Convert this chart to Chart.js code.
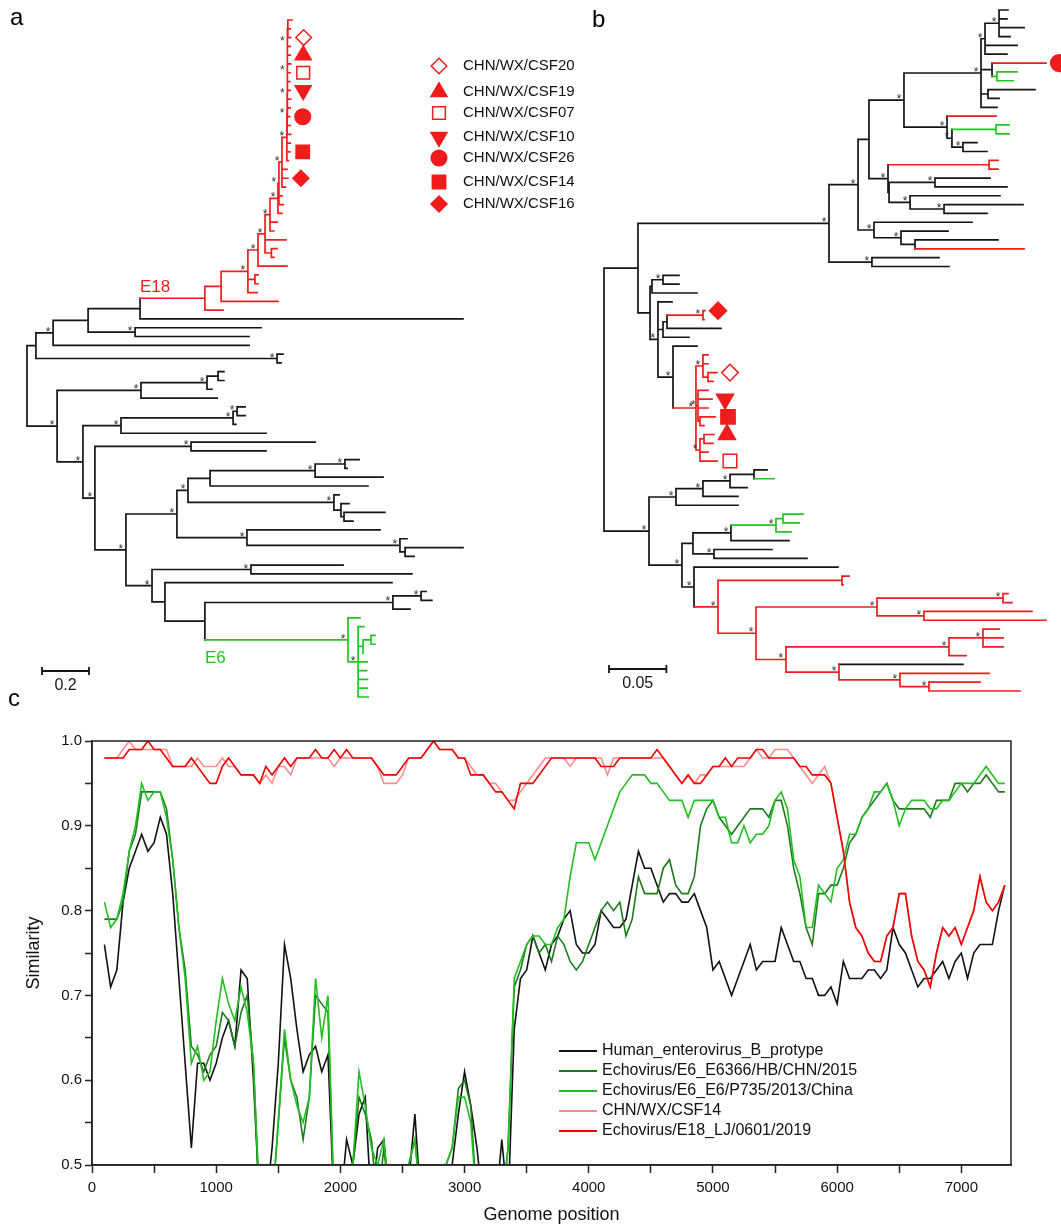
<!DOCTYPE html>
<html>
<head>
<meta charset="utf-8">
<script src="https://cdn.jsdelivr.net/npm/chart.js@4.4.1/dist/chart.umd.min.js"></script>
<style>
  html, body { margin: 0; padding: 0; background: #fff; }
  #page { position: relative; width: 1061px; height: 1227px; overflow: hidden; background: #fff; }
  canvas { position: absolute; }
</style>
</head>
<body>
<div id="page">
  <canvas id="simplot" width="1061" height="547" style="left:0;top:680px"></canvas>
  <canvas id="treeA" width="580" height="712" style="left:0;top:0"></canvas>
  <canvas id="treeB" width="481" height="712" style="left:580px;top:0"></canvas>
</div>
<script>
// ---------- panel c: similarity plot data ----------
// window midpoints along the genome (bp), one value every 50 bp
const positions = Array.from({ length: 146 }, (_, i) => 100 + 50 * i);

const humanEVB = [
  0.76,0.71,0.73,0.81,0.85,0.87,0.89,0.87,0.88,0.91,
  0.89,0.82,0.72,0.62,0.52,0.62,0.62,0.60,0.62,0.65,
  0.67,0.64,0.73,0.72,0.60,0.45,0.45,0.52,0.62,0.76,
  0.72,0.66,0.61,0.63,0.64,0.61,0.63,0.45,0.45,0.53,
  0.50,0.56,0.58,0.45,0.52,0.53,0.45,0.45,0.45,0.48,
  0.56,0.45,0.45,0.45,0.45,0.45,0.50,0.56,0.61,0.57,
  0.52,0.45,0.45,0.45,0.53,0.45,0.66,0.72,0.73,0.77,
  0.75,0.73,0.76,0.77,0.79,0.80,0.76,0.75,0.75,0.76,
  0.80,0.79,0.78,0.78,0.79,0.83,0.87,0.85,0.85,0.83,
  0.81,0.82,0.82,0.81,0.81,0.82,0.80,0.78,0.73,0.74,
  0.72,0.70,0.72,0.74,0.76,0.73,0.74,0.74,0.74,0.78,
  0.76,0.74,0.74,0.72,0.72,0.70,0.70,0.71,0.69,0.74,
  0.72,0.72,0.72,0.73,0.73,0.72,0.73,0.78,0.76,0.75,
  0.73,0.71,0.72,0.72,0.73,0.74,0.72,0.74,0.75,0.72,
  0.75,0.76,0.76,0.76,0.80,0.83
];
const e6E6366 = [
  0.79,0.79,0.79,0.81,0.87,0.89,0.94,0.94,0.94,0.94,
  0.92,0.86,0.78,0.73,0.64,0.63,0.61,0.63,0.64,0.68,
  0.67,0.64,0.68,0.70,0.62,0.45,0.45,0.45,0.55,0.65,
  0.60,0.58,0.53,0.58,0.70,0.69,0.68,0.45,0.45,0.45,
  0.50,0.58,0.56,0.53,0.45,0.52,0.45,0.45,0.45,0.50,
  0.53,0.45,0.45,0.45,0.45,0.50,0.52,0.59,0.60,0.57,
  0.45,0.45,0.45,0.45,0.45,0.52,0.71,0.73,0.76,0.77,
  0.75,0.76,0.74,0.77,0.76,0.74,0.73,0.74,0.76,0.78,
  0.80,0.81,0.80,0.81,0.77,0.79,0.84,0.82,0.82,0.82,
  0.85,0.86,0.83,0.82,0.82,0.84,0.90,0.92,0.93,0.91,
  0.90,0.89,0.90,0.91,0.92,0.92,0.92,0.91,0.93,0.93,
  0.90,0.85,0.82,0.78,0.76,0.82,0.82,0.83,0.83,0.85,
  0.88,0.89,0.91,0.92,0.93,0.94,0.95,0.93,0.92,0.92,
  0.92,0.92,0.92,0.91,0.93,0.93,0.93,0.95,0.95,0.94,
  0.95,0.95,0.96,0.95,0.94,0.94
];
const e6P735 = [
  0.81,0.78,0.79,0.82,0.87,0.90,0.95,0.93,0.94,0.94,
  0.91,0.86,0.78,0.72,0.62,0.64,0.60,0.61,0.67,0.72,
  0.69,0.67,0.71,0.68,0.62,0.45,0.45,0.45,0.55,0.66,
  0.60,0.57,0.55,0.58,0.72,0.65,0.70,0.45,0.45,0.45,
  0.50,0.61,0.57,0.52,0.50,0.53,0.45,0.45,0.45,0.50,
  0.53,0.45,0.45,0.45,0.45,0.50,0.52,0.58,0.58,0.55,
  0.45,0.45,0.45,0.45,0.45,0.52,0.72,0.74,0.76,0.77,
  0.77,0.76,0.76,0.78,0.79,0.84,0.88,0.88,0.88,0.86,
  0.88,0.90,0.92,0.94,0.95,0.96,0.96,0.96,0.95,0.95,
  0.94,0.93,0.93,0.93,0.91,0.93,0.93,0.93,0.93,0.91,
  0.91,0.88,0.88,0.90,0.88,0.89,0.89,0.90,0.93,0.94,
  0.92,0.86,0.84,0.78,0.78,0.83,0.82,0.81,0.85,0.86,
  0.89,0.89,0.91,0.92,0.94,0.94,0.95,0.93,0.90,0.92,
  0.93,0.93,0.93,0.92,0.92,0.93,0.93,0.94,0.95,0.95,
  0.95,0.96,0.97,0.96,0.95,0.95
];
const csf14 = [
  0.98,0.98,0.98,0.99,1.00,0.99,0.99,0.99,0.99,0.99,
  0.99,0.97,0.97,0.97,0.97,0.98,0.97,0.97,0.97,0.98,
  0.97,0.97,0.96,0.96,0.96,0.95,0.96,0.95,0.97,0.97,
  0.96,0.98,0.98,0.98,0.98,0.98,0.98,0.97,0.98,0.98,
  0.98,0.98,0.98,0.98,0.97,0.95,0.95,0.95,0.96,0.98,
  0.98,0.98,0.99,1.00,0.99,0.99,0.99,0.98,0.98,0.97,
  0.96,0.96,0.95,0.95,0.94,0.93,0.93,0.94,0.95,0.96,
  0.97,0.98,0.98,0.98,0.98,0.97,0.98,0.98,0.98,0.98,
  0.98,0.96,0.98,0.98,0.98,0.98,0.98,0.98,0.98,0.98,
  0.98,0.97,0.96,0.95,0.96,0.95,0.96,0.96,0.97,0.97,
  0.97,0.97,0.97,0.97,0.98,0.99,0.98,0.98,0.99,0.99,
  0.99,0.98,0.97,0.96,0.95,0.96,0.97,0.95,0.91,0.87,
  0.81,0.78,0.77,0.75,0.74,0.74,0.77,0.78,0.82,0.82,
  0.77,0.74,0.73,0.71,0.75,0.78,0.77,0.78,0.76,0.78,
  0.80,0.84,0.81,0.80,0.81,0.83
];
const e18LJ = [
  0.98,0.98,0.98,0.98,0.99,0.99,0.99,1.00,0.99,0.99,
  0.98,0.97,0.97,0.97,0.98,0.97,0.96,0.95,0.95,0.97,
  0.98,0.97,0.96,0.96,0.96,0.95,0.97,0.96,0.97,0.98,
  0.97,0.98,0.98,0.98,0.99,0.98,0.98,0.99,0.98,0.99,
  0.98,0.98,0.98,0.98,0.97,0.96,0.96,0.96,0.97,0.98,
  0.98,0.98,0.99,1.00,0.99,0.99,0.99,0.98,0.98,0.96,
  0.96,0.96,0.95,0.94,0.94,0.93,0.92,0.95,0.95,0.95,
  0.96,0.97,0.98,0.98,0.98,0.98,0.98,0.98,0.98,0.98,
  0.97,0.97,0.97,0.98,0.98,0.98,0.98,0.98,0.98,0.99,
  0.98,0.97,0.96,0.95,0.96,0.95,0.95,0.96,0.97,0.97,
  0.98,0.97,0.98,0.98,0.98,0.99,0.99,0.98,0.98,0.98,
  0.98,0.98,0.97,0.97,0.96,0.96,0.96,0.95,0.91,0.87,
  0.81,0.78,0.77,0.75,0.74,0.74,0.77,0.78,0.82,0.82,
  0.77,0.74,0.73,0.71,0.75,0.78,0.77,0.78,0.76,0.78,
  0.80,0.84,0.81,0.80,0.81,0.83
];
const seriesNames = [
  'Human_enterovirus_B_protype',
  'Echovirus/E6_E6366/HB/CHN/2015',
  'Echovirus/E6_E6/P735/2013/China',
  'CHN/WX/CSF14',
  'Echovirus/E18_LJ/0601/2019'
];
const seriesValues = [humanEVB, e6E6366, e6P735, csf14, e18LJ];
const xTickValues = Array.from({ length: 15 }, (_, i) => i * 500);

// ---------- panels a, b: isolates marked on the trees ----------
const isolates = ['CHN/WX/CSF20', 'CHN/WX/CSF19', 'CHN/WX/CSF07', 'CHN/WX/CSF10',
                  'CHN/WX/CSF26', 'CHN/WX/CSF14', 'CHN/WX/CSF16'];

// trees in Newick-like form: number after ':' = distance from root,
// '*' = supported node, '#r' / '#g' / '#k' = branch colour from there on
const A_T0 = '(:1.128,:1.120,CSF20:1.122):1.110';
const A_X0 = `(${A_T0},:1.120,CSF19:1.120)*:1.108`;
const A_X1 = `(${A_X0},:1.122,CSF07:1.120,:1.118,CSF10:1.120,:1.122)*:1.108`;
const A_X2 = `(${A_X1},:1.120,CSF26:1.118)*:1.108`;
const A_X3 = `(${A_X2},:1.120,:1.122)*:1.107`;
const A_S9 = `(${A_X3},:1.120,CSF14:1.118,:1.112)*:1.106`;
const A_S8 = `(${A_S9},:1.106,CSF16:1.110,:1.100)*:1.085`;
const A_S7 = `(${A_S8},:1.085,:1.090)*:1.072`;
const A_S6 = `(${A_S7},:1.085)*:1.068`;
const A_S5 = `(${A_S6},:1.064,:1.050)*:1.034`;
const A_S4 = `(${A_S5},:1.102,(:1.064,:1.050):1.040)*:1.013`;
const A_S3 = `(${A_S4},:1.106)*:0.983`;
const A_S2 = `(${A_S3},(:0.983,:0.983):0.970,:0.979)*:0.940`;
const A_E18 = `((${A_S2},:1.068):0.826,:0.834)E18#r:0.757`;
const A_A = `(${A_E18},:1.855):0.481`;
const A_B = `(${A_A},(:0.996,:0.945)*:0.460):0.260`;
const A_D = `(${A_B},:0.945)*:0.111`;
const A_top = `(${A_D},(:1.089,:1.081)*:1.064):0.038`;
const A_G = '(((:0.838,:0.838):0.813,:0.787)*:0.766,:0.809)*:0.485';
const A_I = '(((:0.928,:0.928)*:0.894,:0.889)*:0.877,:1.017)*:0.400';
const A_K = '(:1.226,:1.017)*:0.698';
const A_M1a = '(((:1.413,:1.362)*:1.353,:1.515)*:1.226,:1.451):0.779';
const A_M1b = '(:1.328,(:1.370,(:1.523,:1.387):1.349):1.336)*:1.306';
const A_M2 = '(:1.502,(:1.617,(:1.855,:1.647):1.609)*:1.587)*:0.936';
const A_M = `((${A_M1a},${A_M1b})*:0.685,${A_M2})*:0.638`;
const A_Q1 = '((:1.698,:1.723)*:1.677,:1.630)*:1.557';
const A_E6 = '(:1.417,(:1.434,((:1.481,:1.481):1.464,:1.432):1.430,:1.447,:1.445,:1.449,:1.447,:1.452)*:1.409)E6*#g:1.366';
const A_N = `((:1.345,:1.638)*:0.953,(:1.553,(${A_Q1},${A_E6}):0.757):0.587)*:0.532`;
const A_J = `(${A_K},(${A_M},${A_N})*:0.421)*:0.289`;
const A_F = `(${A_G},(${A_I},${A_J})*:0.238)*:0.128`;
const TREE_A = `(${A_top},${A_F})`;

const B_Z = '(((:0.3519,:0.3510,:0.3659,:0.3537)*:0.3441,:0.3598,:0.3510)*:0.3319,(CSF26#r:0.3850,(:0.3598,:0.3563)#g:0.3423):0.3380,(:0.3754,:0.3441):0.3345,:0.3423)*:0.3284';
const B_Z2 = '(#r:0.3415,((:0.3528,:0.3528)#g:0.3415,(:0.3249,:0.3336)*:0.3127)*:0.3031)*:0.2988';
const B_X1b = '((:0.3432,:0.3432)#r:0.3354,((:0.3362,:0.3510)*:0.2883,(:0.3449,(:0.3650,:0.3336)*:0.2962)*:0.2666):0.2483)*:0.2474';
const B_X = `(((${B_Z},${B_Z2})*:0.2613,${B_X1b}):0.2308,(:0.3206,(:0.2997,(:0.3432,#r:0.3659):0.2709)*:0.2587)*:0.2352)*:0.2213`;
const B_V = `(${B_X},(:0.2918,:0.3005)*:0.2334)*:0.1960`;
const B_RC = '((:0.0906,:0.0906,(CSF20:0.0984,:0.0949):0.0906)*:0.0862,(:0.0906,CSF10:0.0941,:0.0906,(CSF14:0.0967,:0.0871):0.0836)*:0.0819,((CSF19:0.0958,:0.0949):0.0871,:0.0906,CSF07:0.0984)*:0.0836)*#r:0.0801';
const B_W = `(((:0.0653,:0.0653)*:0.0514,:0.0810):0.0418,(:0.0592,(((CSF16:0.0880,:0.0871)*#r:0.0862,:0.1019):0.0549,:0.0740):0.0514,(:0.0810,${B_RC})*:0.0601)*:0.0470):0.0401`;
const B_U1 = '((((:0.1420,#g:0.1481):0.1307,:0.1246)*:0.1098,:0.1167)*:0.0862,:0.1167)*:0.0627';
const B_U2a = '((((:0.1733,:0.1699):0.1559,:0.1629)*#g:0.1498,:0.1611)*:0.1106,(:0.1463,:0.1768)*:0.0958):0.0775';
const B_RB = '((:0.2134,:0.2082):0.2073,(((:0.3519,:0.3554)*:0.3476,(:0.3728,:0.3850)*:0.2787)*:0.2378,(((:0.3441,:0.3476,:0.3476)*:0.3301,:0.3153)*:0.3005,(#k:0.3127,(:0.3354,(:0.3275,:0.3624)*:0.2831)*:0.2578)*:0.2047)*:0.1585)*:0.1324)*#r:0.0993';
const B_U = `(${B_U1},(${B_U2a},(:0.2038,${B_RB})*:0.0784)*:0.0679)*:0.0392`;
const TREE_B = `((${B_V},${B_W}):0.0296,${B_U})`;

// ---------- styling ----------
const FONT = 'Arial, "Liberation Sans", Helvetica, sans-serif';
Chart.defaults.font.family = FONT;
Chart.defaults.color = '#111';
const RED = '#f01c1c', GREEN = '#1ec81e', INK = '#151515';
const branchColor = { k: INK, r: RED, g: GREEN };
const lineColors = ['#111111', '#1c7a1c', '#22bf22', '#ff8c8c', '#f00000'];
const markerStyle = [
  { shape: 'rectRot', rot: 0, r: 7.8, fill: false },
  { shape: 'triangle', rot: 0, r: 9.2, fill: true },
  { shape: 'rect', rot: 0, r: 9.0, fill: false },
  { shape: 'triangle', rot: 180, r: 9.2, fill: true },
  { shape: 'circle', rot: 0, r: 7.8, fill: true },
  { shape: 'rect', rot: 0, r: 9.4, fill: true },
  { shape: 'rectRot', rot: 0, r: 8.0, fill: true }
];

// ---------- tree helpers ----------
function parseTree(src) {
  const s = src.replace(/\s+/g, '');
  let i = 0;
  function node() {
    const n = { kids: [] };
    if (s[i] === '(') {
      i++;
      n.kids.push(node());
      while (s[i] === ',') { i++; n.kids.push(node()); }
      i++;
    }
    let lab = '';
    while (i < s.length && ':,()'.indexOf(s[i]) < 0) lab += s[i++];
    n.depth = 0;
    if (s[i] === ':') {
      i++;
      let num = '';
      while (i < s.length && ',()'.indexOf(s[i]) < 0) num += s[i++];
      n.depth = parseFloat(num);
    }
    n.star = lab.indexOf('*') >= 0;
    const c = lab.match(/#([rgk])/);
    n.col = c ? c[1] : null;
    n.name = lab.replace('*', '').replace(/#[rgk]/, '');
    return n;
  }
  return node();
}

function layoutTree(root) {
  const leaves = [], nodes = [];
  (function walk(n, parent) {
    n.parent = parent;
    n.col = n.col || (parent ? parent.col : 'k');
    nodes.push(n);
    if (!n.kids.length) { n.y = leaves.length; leaves.push(n); return; }
    n.kids.forEach(k => walk(k, n));
    n.y = (n.kids[0].y + n.kids[n.kids.length - 1].y) / 2;
  })(root, null);
  return { root, leaves, nodes };
}

function branchSegments(tree) {
  const segs = { k: [], r: [], g: [] };
  tree.nodes.forEach(n => {
    if (!n.kids.length) return;
    const first = n.kids[0], last = n.kids[n.kids.length - 1];
    segs[n.col].push({ x: n.depth, y: first.y }, { x: n.depth, y: last.y }, { x: n.depth, y: null });
    n.kids.forEach(k => {
      segs[k.col].push({ x: n.depth, y: k.y }, { x: k.depth, y: k.y }, { x: k.depth, y: null });
    });
  });
  return segs;
}

function isolateIndex(name) {
  return name ? isolates.findIndex(s => s.endsWith('/' + name)) : -1;
}

function drawMarker(ctx, st, x, y, scale) {
  const r = st.r * scale;
  ctx.save();
  ctx.translate(x, y);
  ctx.rotate(st.rot * Math.PI / 180);
  ctx.beginPath();
  if (st.shape === 'circle') ctx.arc(0, 0, r, 0, Math.PI * 2);
  else if (st.shape === 'rect') { const h = r * Math.SQRT1_2; ctx.rect(-h, -h, 2 * h, 2 * h); }
  else if (st.shape === 'rectRot') { ctx.moveTo(0, -r); ctx.lineTo(r, 0); ctx.lineTo(0, r); ctx.lineTo(-r, 0); ctx.closePath(); }
  else {
    for (let k = 0; k < 3; k++) {
      const a = k * 2 * Math.PI / 3;
      if (k) ctx.lineTo(Math.sin(a) * r, -Math.cos(a) * r); else ctx.moveTo(Math.sin(a) * r, -Math.cos(a) * r);
    }
    ctx.closePath();
  }
  ctx.fillStyle = st.fill ? RED : '#fff';
  ctx.fill();
  ctx.lineWidth = 1.5;
  ctx.strokeStyle = RED;
  ctx.stroke();
  ctx.restore();
}

function treeChart(id, src, opt) {
  const tree = layoutTree(parseTree(src));
  const segs = branchSegments(tree);
  const canvas = document.getElementById(id);
  const W = canvas.width, H = canvas.height;
  const step = (opt.lastLeafPx - opt.firstLeafPx) / (tree.leaves.length - 1);
  const xMin = -opt.rootPx / opt.pxPerUnit;
  const yMin = -opt.firstLeafPx / step;

  const marks = tree.leaves.filter(l => isolateIndex(l.name) >= 0).map(l => {
    const k = isolateIndex(l.name);
    return { x: l.depth + opt.markerGapPx / opt.pxPerUnit, y: l.y, k };
  });

  const branchDs = (pts, color) => ({
    data: pts, showLine: true, borderColor: color, borderWidth: 1.7,
    borderCapStyle: 'square', pointRadius: 0, pointHoverRadius: 0,
    spanGaps: false, clip: false, tension: 0
  });

  const decor = {
    id: 'treeDecor' + id,
    afterDatasetsDraw(chart) {
      const { ctx, scales: { x, y } } = chart;
      ctx.save();
      // support stars
      ctx.fillStyle = '#333';
      ctx.font = '12px ' + FONT;
      ctx.textAlign = 'center';
      ctx.textBaseline = 'alphabetic';
      tree.nodes.forEach(n => {
        if (n.star) ctx.fillText('*', x.getPixelForValue(n.depth) - 5, y.getPixelForValue(n.y) + 3);
      });
      // clade labels
      ctx.textAlign = 'left';
      ctx.font = '17px ' + FONT;
      tree.nodes.forEach(n => {
        if (n.name && opt.cladeLabelDy && opt.cladeLabelDy[n.name] !== undefined) {
          ctx.fillStyle = branchColor[n.col];
          ctx.fillText(n.name, x.getPixelForValue(n.parent.depth), y.getPixelForValue(n.y) + opt.cladeLabelDy[n.name]);
        }
      });
      // scale bar
      const sb = opt.scaleBar;
      const len = x.getPixelForValue(sb.value) - x.getPixelForValue(0);
      ctx.strokeStyle = INK;
      ctx.lineWidth = 1.8;
      ctx.beginPath();
      ctx.moveTo(sb.leftPx, sb.yPx); ctx.lineTo(sb.leftPx + len, sb.yPx);
      ctx.moveTo(sb.leftPx, sb.yPx - 4); ctx.lineTo(sb.leftPx, sb.yPx + 4);
      ctx.moveTo(sb.leftPx + len, sb.yPx - 4); ctx.lineTo(sb.leftPx + len, sb.yPx + 4);
      ctx.stroke();
      ctx.fillStyle = INK;
      ctx.textAlign = 'center';
      ctx.font = '16px ' + FONT;
      ctx.fillText(sb.label, sb.leftPx + len / 2, sb.yPx + 19);
      // panel letter
      ctx.textAlign = 'left';
      ctx.font = '24px ' + FONT;
      ctx.fillStyle = '#000';
      ctx.fillText(opt.panel.text, opt.panel.x, opt.panel.y);
      // isolate legend
      if (opt.legend) {
        ctx.font = '15px ' + FONT;
        ctx.textBaseline = 'middle';
        isolates.forEach((name, k) => {
          const ly = opt.legend.rows[k];
          drawMarker(ctx, markerStyle[k], opt.legend.markerX, ly, 1);
          ctx.fillStyle = '#111';
          ctx.fillText(name, opt.legend.textX, ly);
        });
      }
      ctx.restore();
    }
  };

  return new Chart(canvas, {
    type: 'scatter',
    data: {
      datasets: [
        {
          data: marks, showLine: false, clip: false,
          pointStyle: marks.map(m => markerStyle[m.k].shape),
          pointRotation: marks.map(m => markerStyle[m.k].rot),
          pointRadius: marks.map(m => markerStyle[m.k].r * opt.markerScale),
          pointBackgroundColor: marks.map(m => markerStyle[m.k].fill ? RED : '#fff'),
          pointBorderColor: RED, pointBorderWidth: 1.5
        },
        branchDs(segs.g, GREEN),
        branchDs(segs.r, RED),
        branchDs(segs.k, INK)
      ]
    },
    options: {
      responsive: false, animation: false, events: [],
      layout: { autoPadding: false, padding: 0 },
      plugins: { legend: { display: false }, tooltip: { enabled: false } },
      scales: {
        x: { type: 'linear', display: false, min: xMin, max: xMin + W / opt.pxPerUnit },
        y: { type: 'linear', display: false, reverse: true, min: yMin, max: yMin + H / step }
      }
    },
    plugins: [decor]
  });
}

treeChart('treeA', TREE_A, {
  rootPx: 27, pxPerUnit: 235, firstLeafPx: 20, lastLeafPx: 697,
  markerGapPx: 13, markerScale: 1,
  cladeLabelDy: { E18: -6, E6: 23 },
  scaleBar: { value: 0.2, label: '0.2', leftPx: 42, yPx: 671 },
  panel: { text: 'a', x: 10, y: 25 },
  legend: { markerX: 439, textX: 463, rows: [66, 92, 113, 137, 158, 182, 204] }
});

treeChart('treeB', TREE_B, {
  rootPx: 24, pxPerUnit: 1148, firstLeafPx: 10, lastLeafPx: 691,
  markerGapPx: 13, markerScale: 1.07,
  scaleBar: { value: 0.05, label: '0.05', leftPx: 29, yPx: 669 },
  panel: { text: 'b', x: 12, y: 27 }
});

// ---------- panel c ----------
const simDecor = {
  id: 'simDecor',
  afterDatasetsDraw(chart) {
    const { ctx, chartArea: a } = chart;
    ctx.save();
    ctx.strokeStyle = '#222';
    ctx.lineWidth = 1.5;
    ctx.strokeRect(a.left, a.top, a.right - a.left, a.bottom - a.top);
    ctx.font = '16px ' + FONT;
    ctx.textBaseline = 'middle';
    ctx.textAlign = 'left';
    seriesNames.forEach((name, i) => {
      const ly = 371 + i * 20;
      ctx.strokeStyle = lineColors[i];
      ctx.lineWidth = 2;
      ctx.beginPath(); ctx.moveTo(559, ly); ctx.lineTo(597, ly); ctx.stroke();
      ctx.fillStyle = '#111';
      ctx.fillText(name, 602, ly);
    });
    ctx.textBaseline = 'alphabetic';
    ctx.font = '24px ' + FONT;
    ctx.fillStyle = '#000';
    ctx.fillText('c', 8, 26);
    ctx.restore();
  }
};

const tickMarks = { display: true, drawOnChartArea: false, drawTicks: true, tickWidth: 1.5, tickColor: '#222' };

new Chart(document.getElementById('simplot'), {
  type: 'line',
  data: {
    datasets: seriesValues.map((vals, i) => ({
      label: seriesNames[i],
      data: positions.map((x, j) => ({ x, y: vals[j] })),
      borderColor: lineColors[i], borderWidth: 1.6,
      pointRadius: 0, tension: 0, order: seriesValues.length - 1 - i
    }))
  },
  options: {
    responsive: false, animation: false, events: [],
    layout: { autoPadding: false, padding: { left: 0, right: 50, top: 61, bottom: 0 } },
    plugins: { legend: { display: false }, tooltip: { enabled: false } },
    scales: {
      x: {
        type: 'linear', min: 0, max: 7400,
        afterFit: s => { s.height = 62; },
        afterBuildTicks: s => { s.ticks = xTickValues.map(v => ({ value: v })); },
        ticks: { autoSkip: false, maxRotation: 0, padding: 6, font: { size: 15 }, color: '#111',
                 callback: v => (v % 1000 === 0 ? String(v) : '') },
        grid: Object.assign({ tickLength: 8 }, tickMarks),
        border: { display: true, color: '#222', width: 1.5 },
        title: { display: true, text: 'Genome position', font: { size: 18 }, color: '#111', padding: { top: 0, bottom: 1 } }
      },
      y: {
        type: 'linear', min: 0.5, max: 1.0,
        afterFit: s => { s.width = 92; },
        ticks: { stepSize: 0.05, padding: 3, font: { size: 15 }, color: '#111',
                 callback: v => { const r = Math.round(v * 100); return r % 10 === 0 ? (r / 100).toFixed(1) : ''; } },
        grid: Object.assign({ tickLength: 7 }, tickMarks),
        border: { display: true, color: '#222', width: 1.5 },
        title: { display: true, text: 'Similarity', font: { size: 18 }, color: '#111', padding: { top: 23, bottom: 0 } }
      }
    }
  },
  plugins: [simDecor]
});
</script>
</body>
</html>
